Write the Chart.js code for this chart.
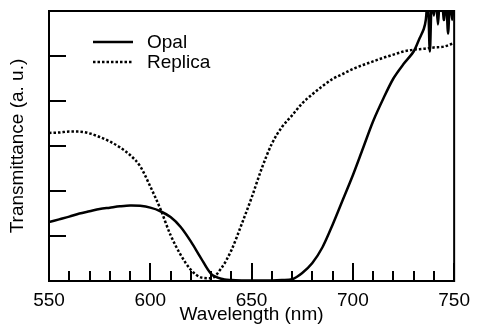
<!DOCTYPE html>
<html>
<head>
<meta charset="utf-8">
<script src="https://cdn.jsdelivr.net/npm/chart.js@4/dist/chart.umd.min.js"></script>
<style>
  html, body { margin: 0; padding: 0; background: #fff; }
  #wrap { width: 478px; height: 329px; }
</style>
</head>
<body>
<div id="wrap"><canvas id="spectra" width="478" height="329"></canvas></div>
<script>
// Transmittance spectra, opal vs. inverse replica
const opalWavelength = [550, 555, 560, 565, 570, 575, 580, 585, 590, 595, 600, 605, 610, 615, 620, 625, 630, 635, 640, 645, 650, 655, 660, 665, 670, 675, 680, 685, 690, 695, 700, 705, 710, 715, 720, 725, 730, 733, 735, 736, 737, 738, 739, 740, 741, 742, 743, 744, 745, 746, 747, 748, 749, 750];
const opalValues = [1.31, 1.37, 1.43, 1.50, 1.55, 1.60, 1.63, 1.66, 1.68, 1.67, 1.63, 1.55, 1.42, 1.20, 0.88, 0.51, 0.16, 0.05, 0.02, 0.01, 0.01, 0.01, 0.01, 0.02, 0.04, 0.18, 0.40, 0.75, 1.25, 1.80, 2.35, 2.95, 3.55, 4.05, 4.50, 4.82, 5.10, 5.40, 5.60, 5.80, 6.30, 5.10, 6.30, 5.90, 6.30, 5.70, 6.30, 6.20, 5.80, 6.30, 5.50, 6.30, 5.80, 6.30];

const replicaWavelength = [550, 555, 560, 565, 570, 575, 580, 585, 590, 595, 600, 605, 610, 615, 620, 625, 630, 635, 640, 645, 650, 655, 660, 665, 670, 675, 680, 685, 690, 695, 700, 705, 710, 715, 720, 725, 730, 735, 740, 745, 750];
const replicaValues = [3.29, 3.30, 3.32, 3.32, 3.28, 3.20, 3.10, 2.97, 2.80, 2.55, 2.10, 1.60, 1.02, 0.58, 0.25, 0.08, 0.06, 0.28, 0.68, 1.25, 1.85, 2.50, 3.05, 3.42, 3.68, 3.95, 4.15, 4.33, 4.49, 4.60, 4.71, 4.80, 4.88, 4.96, 5.03, 5.10, 5.14, 5.16, 5.19, 5.21, 5.29];

const xMajorTicks = [550, 600, 650, 700, 750];
const xMinorTicks = [560, 570, 580, 590, 610, 620, 630, 640, 660, 670, 680, 690, 710, 720, 730, 740];
const yTicks = [1, 2, 3, 4, 5];

const FONT = '"Liberation Sans", Arial, Helvetica, sans-serif';

const toPoints = (xs, ys) => xs.map((x, i) => ({ x: x, y: ys[i] }));

// frame, inward ticks and legend
const framePlugin = {
  id: 'frame',
  afterDraw(chart) {
    const { ctx, chartArea: a, scales } = chart;
    ctx.save();
    ctx.strokeStyle = '#000';
    ctx.lineWidth = 2;
    ctx.strokeRect(a.left, a.top, a.right - a.left, a.bottom - a.top);

    ctx.beginPath();
    xMajorTicks.forEach(v => {
      const px = Math.round(scales.x.getPixelForValue(v));
      ctx.moveTo(px, a.bottom);
      ctx.lineTo(px, a.bottom - 18);
    });
    xMinorTicks.forEach(v => {
      const px = Math.round(scales.x.getPixelForValue(v));
      ctx.moveTo(px, a.bottom);
      ctx.lineTo(px, a.bottom - 10);
    });
    yTicks.forEach(v => {
      const py = Math.round(scales.y.getPixelForValue(v));
      ctx.moveTo(a.left, py);
      ctx.lineTo(a.left + 17, py);
    });
    ctx.stroke();

    // legend
    ctx.font = '19px ' + FONT;
    ctx.fillStyle = '#000';
    ctx.textBaseline = 'middle';
    chart.data.datasets.forEach((ds, i) => {
      const y = 42 + i * 20;
      ctx.beginPath();
      ctx.lineWidth = ds.borderWidth;
      ctx.setLineDash(ds.borderDash || []);
      ctx.moveTo(93, y);
      ctx.lineTo(133, y);
      ctx.stroke();
      ctx.setLineDash([]);
      ctx.fillText(ds.label, 147, y + 1);
    });
    ctx.restore();
  }
};

new Chart(document.getElementById('spectra'), {
  type: 'line',
  data: {
    datasets: [
      {
        label: 'Opal',
        data: toPoints(opalWavelength, opalValues),
        borderColor: '#000',
        borderWidth: 2.5,
        pointRadius: 0,
        tension: 0.3,
        fill: false
      },
      {
        label: 'Replica',
        data: toPoints(replicaWavelength, replicaValues),
        borderColor: '#000',
        borderWidth: 2.5,
        borderDash: [2.5, 2],
        pointRadius: 0,
        cubicInterpolationMode: 'monotone',
        fill: false
      }
    ]
  },
  options: {
    responsive: false,
    animation: false,
    layout: { padding: { top: 11, right: 21, left: 0, bottom: 0 } },
    plugins: { legend: { display: false }, tooltip: { enabled: false } },
    scales: {
      x: {
        type: 'linear',
        min: 550,
        max: 750,
        afterFit: s => { s.height = 48; },
        afterBuildTicks: s => { s.ticks = xMajorTicks.map(v => ({ value: v })); },
        grid: { display: false, drawTicks: false },
        border: { display: false },
        ticks: { color: '#000', font: { family: FONT, size: 19 }, padding: 8, maxRotation: 0 },
        title: {
          display: true,
          text: 'Wavelength (nm)',
          color: '#000',
          font: { family: FONT, size: 19 },
          padding: { top: 0, bottom: 3 }
        }
      },
      y: {
        min: 0,
        max: 6,
        afterFit: s => { s.width = 49; },
        grid: { display: false, drawTicks: false },
        border: { display: false },
        ticks: { display: false },
        title: {
          display: true,
          text: 'Transmittance (a. u.)',
          color: '#000',
          font: { family: FONT, size: 19 },
          padding: { top: 6, bottom: 0 }
        }
      }
    }
  },
  plugins: [framePlugin]
});
</script>
</body>
</html>
